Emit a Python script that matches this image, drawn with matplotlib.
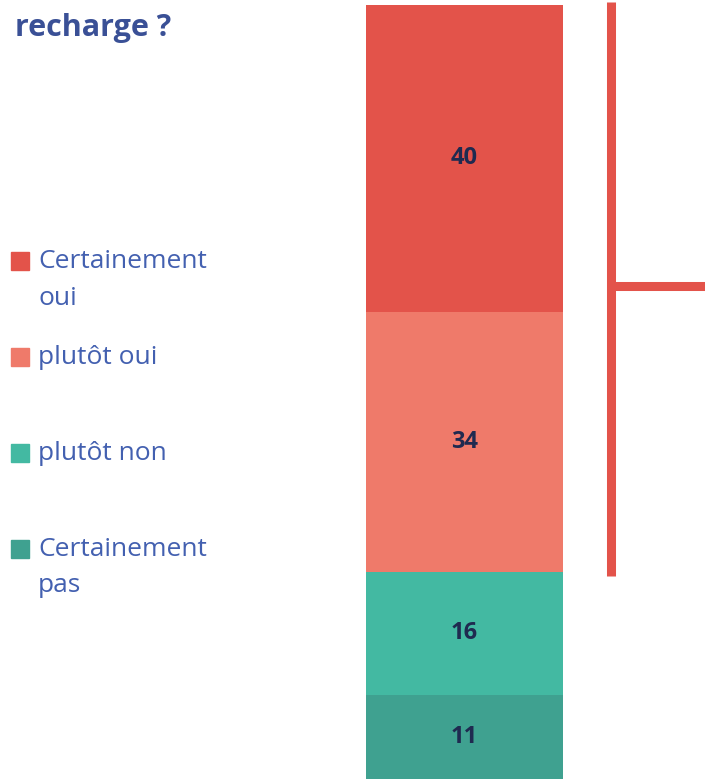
import matplotlib
matplotlib.use("Agg")
from matplotlib import pyplot as plt
from matplotlib.patches import Rectangle

# donnees (du bas vers le haut)
labels = ["Certainement\npas", "plutôt non", "plutôt oui", "Certainement\noui"]
values = [11, 16, 34, 40]
colors = ["#3FA190", "#43B9A2", "#EF7A6A", "#E3534A"]
title = "recharge ?"

W, H = 705, 779
fig = plt.figure(figsize=(W / 100, H / 100), dpi=100)
plt.rcParams['font.family'] = ['Open Sans', 'DejaVu Sans']

# barre empilee
ax = fig.add_axes([366 / W, 0, (563 - 366) / W, 774 / H])
bottom = 0
for v, c in zip(values, colors):
    ax.bar(0, v, bottom=bottom, width=1, color=c, edgecolor="none")
    ax.text(0, bottom + v / 2, str(v), ha="center", va="center",
            fontsize=17, fontweight="bold", color="#1F2A50")
    bottom += v
ax.set_xlim(-0.5, 0.5)
ax.set_ylim(0, sum(values))
ax.axis("off")

# accolade a droite (oui)
bx = fig.add_axes([0, 0, 1, 1])
bx.set_xlim(0, W)
bx.set_ylim(H, 0)
bx.axis("off")
bx.plot([610.5, 610.5], [2, 576], color="#E3534A", lw=6.5, solid_capstyle="butt")
bx.plot([610.5, W], [285.5, 285.5], color="#E3534A", lw=6.5, solid_capstyle="butt")

# titre
bx.text(15, 28, title, ha="left", va="center", fontsize=22,
        fontweight="bold", color="#3A5096")

# legende
leg_y = [549, 453, 357, 261]
for lab, c, y in zip(labels, colors, leg_y):
    bx.add_patch(Rectangle((11, y - 9), 18, 18, color=c))
    lines = lab.split("\n")
    for i, ln in enumerate(lines):
        bx.text(38, y + i * 37, ln, ha="left", va="center",
                fontsize=19, color="#4360B0")

plt.savefig("out.png", dpi=100)
